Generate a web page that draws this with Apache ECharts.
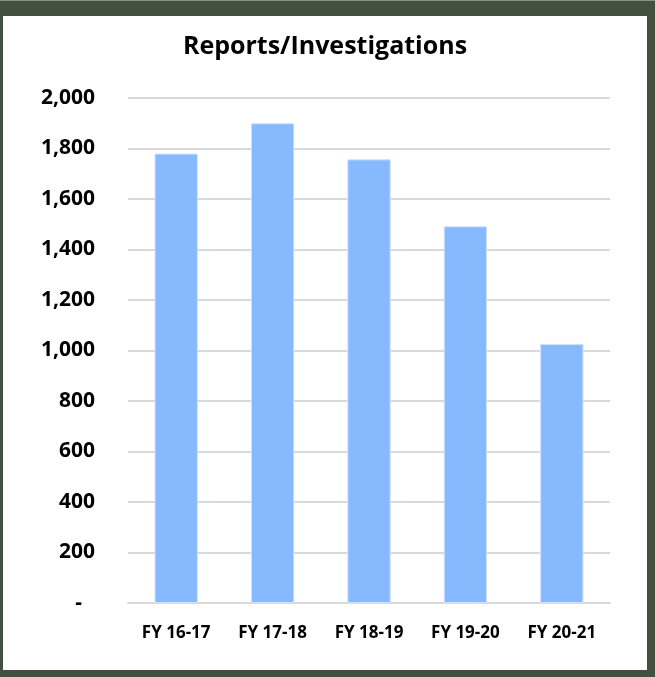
<!DOCTYPE html>
<html>
<head>
<meta charset="utf-8">
<script src="https://cdn.jsdelivr.net/npm/echarts@6/dist/echarts.min.js"></script>
<style>
  html, body { margin: 0; padding: 0; }
  body { width: 655px; height: 677px; background: #435040; position: relative; overflow: hidden; border-top: 1px solid #8a8f88; box-sizing: border-box; }
  #chart { position: absolute; left: 3px; top: 15px; width: 644px; height: 654px; background: #ffffff; }
</style>
</head>
<body>
<div id="chart"></div>
<script>
const categories = ['FY 16-17', 'FY 17-18', 'FY 18-19', 'FY 19-20', 'FY 20-21']
const reports = [1780, 1900, 1757, 1492, 1026]
const yTicks = [0, 200, 400, 600, 800, 1000, 1200, 1400, 1600, 1800, 2000]

const chart = echarts.init(document.getElementById('chart'))
chart.setOption({
  animation: false,
  title: {
    text: 'Reports/Investigations',
    left: 'center',
    top: 13,
    textStyle: { fontFamily: 'Open Sans', fontSize: 25, fontWeight: 'bold', color: '#000' }
  },
  grid: { left: 125, right: 37, top: 82, bottom: 67 },
  xAxis: {
    type: 'category',
    data: categories,
    axisLine: { lineStyle: { color: '#d9d9d9', width: 2 } },
    axisTick: { show: false },
    axisLabel: { margin: 22, fontFamily: 'Open Sans', fontSize: 17, fontWeight: 'bold', color: '#000' }
  },
  yAxis: {
    type: 'value',
    min: yTicks[0],
    max: yTicks[yTicks.length - 1],
    interval: 200,
    axisLine: { show: false },
    axisTick: { show: false },
    splitLine: { lineStyle: { color: '#d9d9d9', width: 2 } },
    axisLabel: {
      margin: 33,
      fontFamily: 'Open Sans',
      fontSize: 21,
      fontWeight: 'bold',
      color: '#000',
      formatter: function (v) {
        if (v === 0) return '{z|-}'
        return v.toLocaleString('en-US')
      },
      rich: { z: { fontFamily: 'Open Sans', fontSize: 21, fontWeight: 'bold', color: '#000', padding: [0, 13, 0, 0] } }
    }
  },
  series: [{
    name: 'Reports/Investigations',
    type: 'bar',
    data: reports,
    barWidth: '45%',
    itemStyle: { color: '#86b9ff', borderColor: '#cfe3ff', borderWidth: 1 }
  }]
})
</script>
</body>
</html>
